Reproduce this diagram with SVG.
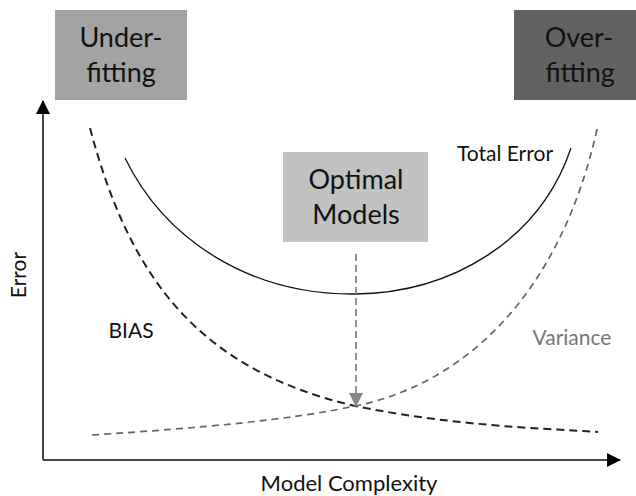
<svg xmlns="http://www.w3.org/2000/svg" width="636" height="496" viewBox="0 0 636 496">
<style>
text{font-family:Lato,"Open Sans","Liberation Sans",sans-serif;fill:#111}
.box{font-size:27px}
.lbl{font-size:21px}
</style>
<defs>
<marker id="ah" markerWidth="14" markerHeight="14" refX="13" refY="7" orient="auto" markerUnits="userSpaceOnUse">
<path d="M0,0 L14,7 L0,14 Z" fill="#000"/>
</marker>
<marker id="gh" markerWidth="14" markerHeight="14" refX="13" refY="7" orient="auto" markerUnits="userSpaceOnUse">
<path d="M0,0 L14,7 L0,14 Z" fill="#888"/>
</marker>
</defs>
<rect width="636" height="496" fill="#fff"/>
<g id="axes">
<line x1="43" y1="460" x2="43" y2="101" stroke="#444" stroke-width="2" marker-end="url(#ah)"/>
<line x1="43" y1="460" x2="620" y2="460" stroke="#444" stroke-width="2" marker-end="url(#ah)"/>
<text x="0" y="0" transform="translate(26,275) rotate(-90)" text-anchor="middle" font-size="21">Error</text>
<text x="349" y="491" text-anchor="middle" font-size="22">Model Complexity</text>
</g>
<g id="under">
<rect x="55" y="10" width="132" height="90" fill="#a3a3a3"/>
<text class="box" x="121" y="47" text-anchor="middle">Under-</text>
<text class="box" x="121" y="82" text-anchor="middle">fitting</text>
</g>
<g id="over">
<rect x="514" y="10" width="122" height="90" fill="#626262"/>
<text class="box" x="579" y="47" text-anchor="middle">Over-</text>
<text class="box" x="580" y="82" text-anchor="middle">fitting</text>
</g>
<g id="optimal">
<rect x="283" y="152" width="145" height="90" fill="#c2c2c2"/>
<text class="box" x="356" y="189" text-anchor="middle">Optimal</text>
<text class="box" x="356" y="224" text-anchor="middle">Models</text>
</g>
<g id="connectors" fill="none">
<path id="total" d="M125,158 C165,240 250,295 355,294 C452,293 540,240 571,148" stroke="#111" stroke-width="1.3"/>
<path id="bias" d="M90,128 C130,280 200,370 355,406 C450,425 530,428 598,432" stroke="#222" stroke-width="2" stroke-dasharray="8,5"/>
<path id="variance" d="M92,435 C200,428 290,420 355,406 C460,385 560,300 598,125" stroke="#666" stroke-width="1.7" stroke-dasharray="7,5"/>
<line x1="356" y1="254" x2="356" y2="406" stroke="#888" stroke-width="1.8" stroke-dasharray="7,4" marker-end="url(#gh)"/>
</g>
<text class="lbl" x="505" y="161" text-anchor="middle">Total Error</text>
<text class="lbl" x="131" y="338" text-anchor="middle">BIAS</text>
<text class="lbl" x="572" y="345" text-anchor="middle" style="fill:#777">Variance</text>
</svg>
